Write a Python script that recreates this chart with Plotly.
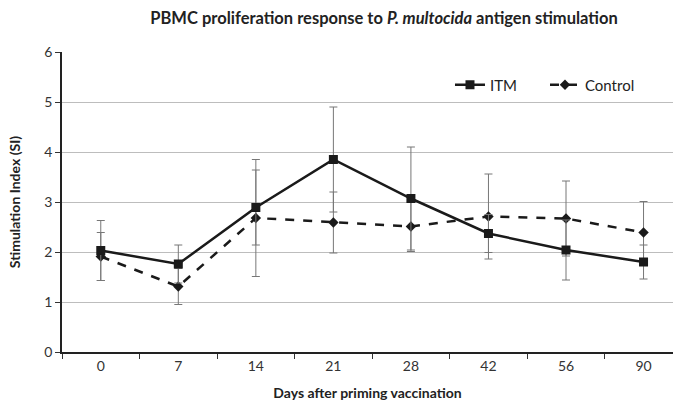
import plotly.graph_objects as go

days = ["0", "7", "14", "21", "28", "42", "56", "90"]
itm = [2.03, 1.76, 2.89, 3.85, 3.07, 2.37, 2.04, 1.80]
itm_err = [0.60, 0.38, 0.75, 1.05, 1.03, 0.38, 0.60, 0.34]
ctrl = [1.91, 1.31, 2.68, 2.59, 2.51, 2.71, 2.67, 2.39]
ctrl_err = [0.48, 0.36, 1.17, 0.61, 0.50, 0.85, 0.75, 0.62]
y_ticks = [0, 1, 2, 3, 4, 5, 6]

FONT = "Lato"

fig = go.Figure()
fig.add_trace(go.Scatter(
    x=days, y=ctrl, name="Control", mode="lines+markers",
    line=dict(color="#1a1a1a", width=2.5, dash="dash"),
    marker=dict(symbol="diamond", size=8, color="#1a1a1a"),
    error_y=dict(type="data", array=ctrl_err, visible=True, color="#777777", thickness=1, width=4),
))
fig.add_trace(go.Scatter(
    x=days, y=itm, name="ITM", mode="lines+markers",
    line=dict(color="#1a1a1a", width=2.5),
    marker=dict(symbol="square", size=9, color="#1a1a1a"),
    error_y=dict(type="data", array=itm_err, visible=True, color="#777777", thickness=1, width=4),
))

fig.add_annotation(x="21", y=5.3, text="<b>m</b>", showarrow=False,
                   font=dict(family="Liberation Serif", size=14, color="#222"))

fig.update_layout(
    width=673, height=408,
    margin=dict(l=62, r=0, t=52, b=56),
    paper_bgcolor="white", plot_bgcolor="white",
    title=dict(text="<b>PBMC proliferation response to <i>P. multocida</i> antigen stimulation</b>",
               x=0.527, xanchor="center", xref="paper", y=0.955, yanchor="middle",
               font=dict(family=FONT, size=16.5, color="#222")),
    showlegend=True,
    legend=dict(orientation="h", x=0.635, y=0.89, xanchor="left", yanchor="middle",
                traceorder="reversed", bgcolor="rgba(0,0,0,0)", entrywidth=50,
                font=dict(family=FONT, size=15, color="#222")),
    font=dict(family=FONT, color="#222"),
)
fig.update_xaxes(
    type="category", range=[-0.5, 7.38], tickson="boundaries",
    ticks="outside", ticklen=5, tickcolor="#333",
    showline=True, linecolor="#222", linewidth=1.5, showgrid=False,
    tickfont=dict(family=FONT, size=14, color="#333"),
    title=dict(text="<b>Days after priming vaccination</b>", font=dict(family=FONT, size=14, color="#222"), standoff=16),
)
fig.update_yaxes(
    range=[0, 6], tickvals=y_ticks, ticks="outside", ticklen=5, tickcolor="#333",
    showline=True, linecolor="#222", linewidth=1.5,
    showgrid=True, gridcolor="#bdbdbd", gridwidth=1.2, zeroline=False,
    tickfont=dict(family=FONT, size=14, color="#333"),
    title=dict(text="<b>Stimulation Index (SI)</b>", font=dict(family=FONT, size=14, color="#222"), standoff=20),
)

fig.write_html("out.html")
